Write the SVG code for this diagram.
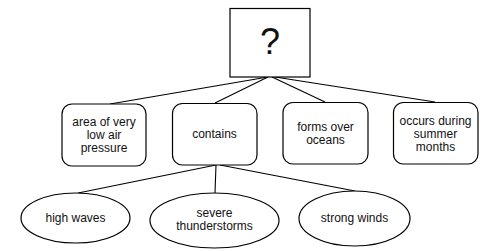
<svg xmlns="http://www.w3.org/2000/svg" width="493" height="251" viewBox="0 0 493 251">
<style>
.box{fill:#fff;stroke:#000;stroke-width:1.2}
.ell{fill:#fff;stroke:#000;stroke-width:1.2}
.edge{stroke:#000;stroke-width:1.1;fill:none}
text{font-family:"Liberation Sans",Arial,sans-serif;font-size:12px;fill:#111;text-anchor:middle}
.q{font-size:36px}
</style>
<rect x="0" y="0" width="493" height="251" fill="#fff"/>
<g id="connectors">
<line class="edge" x1="268" y1="77" x2="110" y2="104"/>
<line class="edge" x1="268" y1="77" x2="215" y2="103"/>
<line class="edge" x1="272" y1="77" x2="325" y2="102"/>
<line class="edge" x1="275" y1="77" x2="435" y2="102"/>
<line class="edge" x1="216" y1="165" x2="78" y2="193"/>
<line class="edge" x1="216" y1="165" x2="215" y2="193"/>
<line class="edge" x1="220" y1="165" x2="355" y2="191"/>
</g>
<g id="root">
<rect class="box" x="230" y="8.5" width="80" height="68.5"/>
<text class="q" x="270" y="54">?</text>
</g>
<g id="n1">
<rect class="box" x="62" y="104" width="84" height="62" rx="10"/>
<text x="104" y="126">area of very</text>
<text x="104" y="139">low air</text>
<text x="104" y="152">pressure</text>
</g>
<g id="n2">
<rect class="box" x="172.5" y="103.5" width="84.5" height="61.5" rx="10"/>
<text x="214.5" y="138">contains</text>
</g>
<g id="n3">
<rect class="box" x="283" y="102.5" width="85" height="61.5" rx="10"/>
<text x="325.5" y="131">forms over</text>
<text x="325.5" y="144">oceans</text>
</g>
<g id="n4">
<rect class="box" x="393.5" y="102.5" width="84.5" height="61.5" rx="10"/>
<text x="435.5" y="125">occurs during</text>
<text x="435.5" y="138">summer</text>
<text x="435.5" y="151">months</text>
</g>
<g id="e1">
<ellipse class="ell" cx="75.5" cy="218" rx="54.5" ry="25"/>
<text x="75.5" y="222">high waves</text>
</g>
<g id="e2">
<ellipse class="ell" cx="214.5" cy="220.5" rx="64.5" ry="27.5"/>
<text x="214.5" y="217">severe</text>
<text x="214.5" y="230">thunderstorms</text>
</g>
<g id="e3">
<ellipse class="ell" cx="354.5" cy="218.5" rx="55.5" ry="27.5"/>
<text x="354.5" y="222">strong winds</text>
</g>
</svg>
